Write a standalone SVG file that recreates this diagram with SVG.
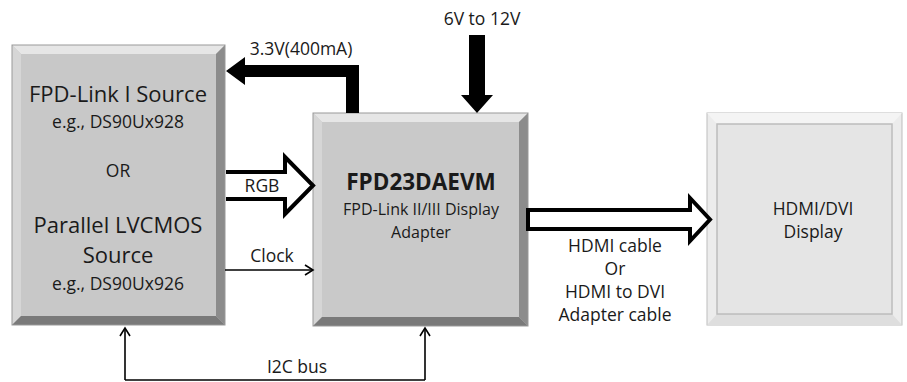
<svg xmlns="http://www.w3.org/2000/svg" width="907" height="382" viewBox="0 0 907 382">
<style>
text{font-family:"Open Sans","Noto Sans",sans-serif;fill:#1a1a1a;text-anchor:middle}
.big{font-size:22px}
.med{font-size:17.5px}
.sm{font-size:17.5px}
.sub{font-size:16px}
.bold{font-weight:bold;font-size:22.5px}
.hol{fill:#fff;stroke:#000;stroke-width:4;stroke-linejoin:miter}
.thin{fill:none;stroke:#000;stroke-width:1.6}
</style>
<defs>
<marker id="open" markerWidth="12" markerHeight="12" refX="10" refY="6" orient="auto" markerUnits="userSpaceOnUse">
<path d="M2,1 L10,6 L2,11" fill="none" stroke="#000" stroke-width="1.6"/>
</marker>
</defs>
<rect width="907" height="382" fill="#fff"/>
<g id="source">
<rect x="12" y="45" width="213" height="280" fill="#c8c8c8"/>
<polygon points="12,45 225,45 216,54 21,54" fill="#e6e6e6"/>
<polygon points="12,45 21,54 21,316 12,325" fill="#d6d6d6"/>
<polygon points="225,45 225,325 216,316 216,54" fill="#8c8c8c"/>
<polygon points="12,325 225,325 216,316 21,316" fill="#7a7a7a"/>
<rect x="12" y="45" width="213" height="280" fill="none" stroke="#999" stroke-width="1"/>
<text class="big" x="118" y="102">FPD-Link I Source</text>
<text class="med" x="118" y="128">e.g., DS90Ux928</text>
<text class="med" x="118" y="177">OR</text>
<text class="big" x="118" y="233">Parallel LVCMOS</text>
<text class="big" x="118" y="263">Source</text>
<text class="med" x="118" y="290">e.g., DS90Ux926</text>
</g>
<g id="adapter">
<rect x="313" y="113" width="215" height="213" fill="#c9c9c9"/>
<polygon points="313,113 528,113 519,122 322,122" fill="#e6e6e6"/>
<polygon points="313,113 322,122 322,317 313,326" fill="#d6d6d6"/>
<polygon points="528,113 528,326 519,317 519,122" fill="#8c8c8c"/>
<polygon points="313,326 528,326 519,317 322,317" fill="#7a7a7a"/>
<rect x="313" y="113" width="215" height="213" fill="none" stroke="#999" stroke-width="1"/>
<text class="bold" x="421" y="190">FPD23DAEVM</text>
<text class="sub" x="421" y="215">FPD-Link II/III Display</text>
<text class="sub" x="421" y="238">Adapter</text>
</g>
<g id="display">
<rect x="707" y="113" width="195" height="212" fill="#ececec" stroke="#bdbdbd" stroke-width="1"/>
<polygon points="707,113 902,113 892,124 717,124" fill="#f4f4f4"/>
<polygon points="707,325 902,325 892,314 717,314" fill="#dedede"/>
<rect x="717" y="124" width="175" height="190" fill="#e5e5e5" stroke="#bcbcbc" stroke-width="1.5"/>
<text class="sm" x="813" y="215">HDMI/DVI</text>
<text class="sm" x="813" y="238">Display</text>
</g>
<g id="connectors">
<polygon points="359,113 359,65 245,65 245,57 226,71 245,85 245,77 346,77 346,113" fill="#000"/>
<text class="sm" x="301" y="55">3.3V(400mA)</text>
<polygon points="469,35 485,35 485,95 493,95 477,113 461,95 469,95" fill="#000"/>
<text class="sm" x="482" y="25">6V to 12V</text>
<path class="hol" d="M226,172 H285 V157 L313,185.5 L285,214 V199 H226"/>
<text class="sm" x="262" y="192">RGB</text>
<line class="thin" x1="225" y1="270" x2="313" y2="270" marker-end="url(#open)"/>
<text class="sm" x="272" y="262">Clock</text>
<path class="hol" d="M528,210 H690 V198 L710,219.5 L690,241 V229 H528 Z"/>
<text class="sm" x="615" y="252">HDMI cable</text>
<text class="sm" x="615" y="275">Or</text>
<text class="sm" x="615" y="298">HDMI to DVI</text>
<text class="sm" x="615" y="321">Adapter cable</text>
<polyline class="thin" points="125,380 425,380"/>
<line class="thin" x1="125" y1="380" x2="125" y2="328" marker-end="url(#open)"/>
<line class="thin" x1="425" y1="380" x2="425" y2="328" marker-end="url(#open)"/>
<text class="sm" x="297" y="373">I2C bus</text>
</g>
</svg>
